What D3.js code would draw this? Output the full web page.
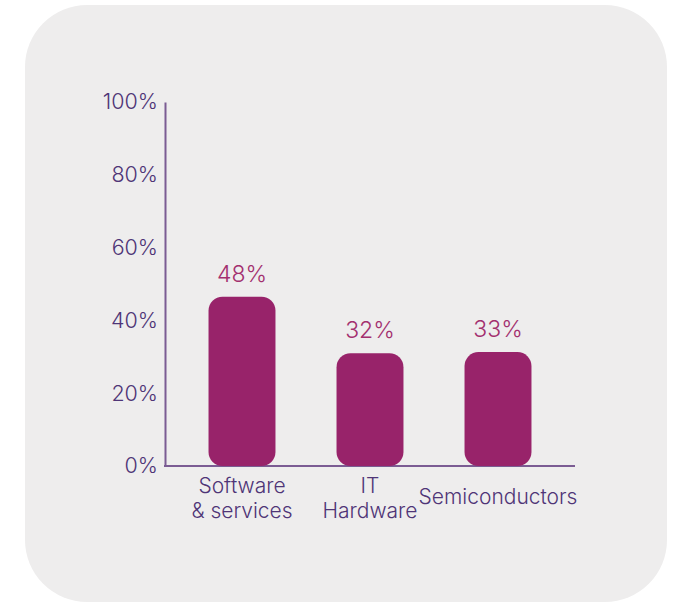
<!DOCTYPE html>
<html>
<head>
<meta charset="utf-8">
<script src="https://cdn.jsdelivr.net/npm/d3@7"></script>
<style>
  body { margin: 0; background: #ffffff; }
  svg { display: block; font-family: "Inter", "Roboto", sans-serif; }
</style>
</head>
<body>
<div id="chart"></div>
<script>
var svgWidth = 673;
var svgHeight = 603;

// data
var categories = ["Software & services", "IT Hardware", "Semiconductors"];
var categoryLines = [["Software", "& services"], ["IT", "Hardware"], ["Semiconductors"]];
var barValues = [46.5, 31, 31.3];
var valueLabels = ["48%", "32%", "33%"];
var yTicks = [0, 20, 40, 60, 80, 100];

var svg = d3.select("#chart")
  .append("svg")
  .attr("width", svgWidth)
  .attr("height", svgHeight);

// card background
svg.append("rect")
  .attr("x", 25)
  .attr("y", 5)
  .attr("width", 642)
  .attr("height", 597)
  .attr("rx", 62)
  .attr("fill", "#eeeded");

var x = d3.scaleBand()
  .domain(categories)
  .range([178, 562])
  .paddingInner(0.477)
  .paddingOuter(0.2385);

var y = d3.scaleLinear()
  .domain([0, 100])
  .range([466, 102]);

// y axis
var yAxis = svg.append("g")
  .attr("transform", "translate(165,0)")
  .call(d3.axisLeft(y).tickValues(yTicks).tickSize(0).tickPadding(7).tickFormat(d => d + "%"));
yAxis.select(".domain").attr("stroke", "#7b5c93").attr("stroke-width", 2);
yAxis.selectAll("text")
  .attr("fill", "#4f3577")
  .style("font-size", "21.5px")
  .style("font-weight", 300)
  .style("font-family", "Inter, Roboto, sans-serif");

// x axis line
svg.append("line")
  .attr("x1", 164)
  .attr("x2", 575)
  .attr("y1", y(0))
  .attr("y2", y(0))
  .attr("stroke", "#7b5c93")
  .attr("stroke-width", 2);

// bars
svg.selectAll(".bar")
  .data(categories)
  .enter()
  .append("rect")
  .attr("class", "bar")
  .attr("x", d => x(d))
  .attr("width", x.bandwidth())
  .attr("y", (d, i) => y(barValues[i]))
  .attr("height", (d, i) => y(0) - y(barValues[i]))
  .attr("rx", 14)
  .attr("fill", "#98236a");

// value labels
svg.selectAll(".val")
  .data(categories)
  .enter()
  .append("text")
  .attr("class", "val")
  .attr("x", d => x(d) + x.bandwidth() / 2)
  .attr("y", (d, i) => y(barValues[i]) - 15)
  .attr("text-anchor", "middle")
  .attr("fill", "#a3306f")
  .style("font-size", "23px")
  .style("font-weight", 300)
  .text((d, i) => valueLabels[i]);

// category labels
categories.forEach(function(c, i) {
  var lines = categoryLines[i];
  var t = svg.append("text")
    .attr("x", x(c) + x.bandwidth() / 2)
    .attr("y", lines.length == 1 ? 504 : 493)
    .attr("text-anchor", "middle")
    .attr("fill", "#4f3577")
    .style("font-size", "21px")
    .style("font-weight", 300);
  lines.forEach(function(l, j) {
    t.append("tspan")
      .attr("x", x(c) + x.bandwidth() / 2)
      .attr("dy", j == 0 ? 0 : 25)
      .text(l);
  });
});
</script>
</body>
</html>
